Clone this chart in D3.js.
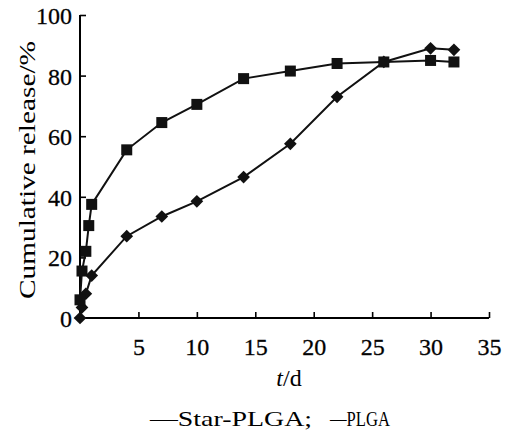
<!DOCTYPE html>
<meta charset="utf-8">
<head>
<style>
  body { margin: 0; background: #fff; }
</style>
</head>
<body>
<div id="my_dataviz"></div>
<script src="https://d3js.org/d3.v7.min.js"></script>
<script>
// data (t in days, release in %)
const plgaT   = [0, 0.17, 0.5, 0.75, 1, 4, 7, 10, 14, 18, 22, 26, 30, 32];
const plgaV   = [6, 15.5, 22, 30.5, 37.5, 55.5, 64.5, 70.5, 79, 81.5, 84, 84.5, 85, 84.5];
const starT   = [0, 0.17, 0.5, 1, 4, 7, 10, 14, 18, 22, 26, 30, 32];
const starV   = [0, 3.5, 8, 14, 27, 33.5, 38.5, 46.5, 57.5, 73, 84.5, 89, 88.5];
const xTicks  = [5, 10, 15, 20, 25, 30, 35];
const yTicks  = [0, 20, 40, 60, 80, 100];

const W = 511, H = 431;
const FONT = "'Liberation Serif', 'Times New Roman', serif";
const svg = d3.select("#my_dataviz").append("svg")
    .attr("width", W).attr("height", H);

// scales
const x = d3.scaleLinear().domain([0, 35]).range([80, 489]);
const y = d3.scaleLinear().domain([0, 100]).range([318, 15]);

// X axis (ticks point inward)
const xAxis = svg.append("g")
    .attr("transform", `translate(0, ${y(0)})`)
    .call(d3.axisTop(x).tickValues(xTicks).tickSize(6).tickSizeOuter(0).tickFormat(d3.format("d")));
xAxis.select(".domain").attr("stroke-width", 2).attr("d", `M${x(0)},0H${x(35)}`);
xAxis.selectAll(".tick line").attr("stroke-width", 1.6);
xAxis.selectAll(".tick text")
    .attr("y", 37).attr("dy", 0)
    .style("font-family", FONT)
    .style("font-size", "24px")
    .style("stroke", "#111").style("stroke-width", "0.3px");

// Y axis
const yAxis = svg.append("g")
    .attr("transform", `translate(${x(0)}, 0)`)
    .call(d3.axisRight(y).tickValues(yTicks).tickSize(6).tickSizeOuter(0));
yAxis.select(".domain").attr("stroke-width", 2).attr("d", `M0,${y(0)}V${y(100)}`);
yAxis.selectAll(".tick line").attr("stroke-width", 1.6);
yAxis.selectAll(".tick text")
    .attr("x", -8).attr("dy", "0.35em")
    .attr("text-anchor", "end")
    .style("font-family", FONT)
    .style("font-size", "24px")
    .style("stroke", "#111").style("stroke-width", "0.3px");
yAxis.selectAll(".tick").filter(d => d === 0).select("line").remove();

// axis titles
svg.append("text")
    .attr("transform", "translate(35, 170) rotate(-90)")
    .attr("text-anchor", "middle")
    .attr("textLength", 258)
    .attr("lengthAdjust", "spacingAndGlyphs")
    .style("font-family", FONT)
    .style("font-size", "24px")
    .text("Cumulative release/%");

const xt = svg.append("text")
    .attr("x", 289).attr("y", 386)
    .attr("text-anchor", "middle")
    .style("font-family", FONT)
    .style("font-size", "24px");
xt.append("tspan").style("font-style", "italic").text("t");
xt.append("tspan").text("/d");

// lines
const line = d3.line().x(d => x(d[0])).y(d => y(d[1]));
const plga = plgaT.map((t, i) => [t, plgaV[i]]);
const star = starT.map((t, i) => [t, starV[i]]);

svg.append("path").datum(star)
    .attr("fill", "none").attr("stroke", "#111").attr("stroke-width", 2)
    .attr("d", line);
svg.append("path").datum(plga)
    .attr("fill", "none").attr("stroke", "#111").attr("stroke-width", 2)
    .attr("d", line);

// markers
svg.append("g").selectAll("path")
    .data(star)
    .join("path")
      .attr("transform", d => `translate(${x(d[0])}, ${y(d[1])}) rotate(45)`)
      .attr("d", "M-4.5,-4.5H4.5V4.5H-4.5Z")
      .attr("fill", "#111");

svg.append("g").selectAll("rect")
    .data(plga)
    .join("rect")
      .attr("x", d => x(d[0]) - 5.5)
      .attr("y", d => y(d[1]) - 5.5)
      .attr("width", 11).attr("height", 11)
      .attr("fill", "#111");

// legend (markers lost in the original print, only dashes left)
svg.append("text")
    .attr("x", 150).attr("y", 426)
    .style("font-family", FONT)
    .style("font-size", "21px")
    .attr("textLength", 162)
    .attr("lengthAdjust", "spacingAndGlyphs")
    .text("\u2014Star-PLGA;");
svg.append("text")
    .attr("x", 330).attr("y", 426)
    .style("font-family", FONT)
    .style("font-size", "21px")
    .attr("textLength", 60)
    .attr("lengthAdjust", "spacingAndGlyphs")
    .text("\u2014PLGA");
</script>
</body>
